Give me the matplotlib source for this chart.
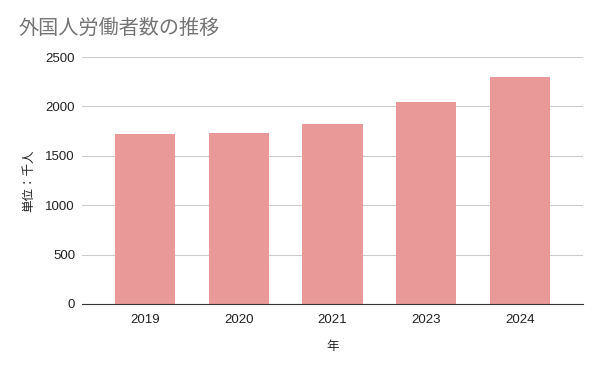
import matplotlib.pyplot as plt

plt.rcParams['font.family'] = ['Noto Sans CJK JP', 'DejaVu Sans']

years = ['2019', '2020', '2021', '2023', '2024']
workers = [1724, 1727, 1822, 2048, 2302]

fig = plt.figure(figsize=(6.02, 3.72), dpi=100)
ax = fig.add_axes([82/602, 1-304/372, 501/602, 247/372])

ax.bar(range(len(years)), workers, width=0.64, color='#ea9999', zorder=2)
ax.set_xlim(-0.67, 4.67)
ax.set_ylim(0, 2500)
ax.set_yticks([0, 500, 1000, 1500, 2000, 2500])
ax.set_xticks(range(len(years)))
ax.set_xticklabels(years)
ax.grid(axis='y', color='#cccccc', linewidth=0.8, zorder=0)
for s in ['top', 'right', 'left']:
    ax.spines[s].set_visible(False)
ax.spines['bottom'].set_color('#333333')
ax.tick_params(length=0, labelsize=9.5, colors='#222222')
ax.tick_params(axis='x', pad=7)
ax.tick_params(axis='y', pad=5)
for lbl in ax.get_xticklabels() + ax.get_yticklabels():
    lbl.set_family(['Liberation Sans', 'DejaVu Sans'])
ax.set_xlabel('年', fontsize=9, labelpad=10, color='#222222')
ax.set_ylabel('単位：千人', fontsize=9, color='#222222')
ax.yaxis.set_label_coords(-0.094, 0.5)

fig.text(18/602, 1-28/372, '外国人労働者数の推移', fontsize=14.5, color='#757575', va='center')

fig.savefig('out.png', dpi=100)
